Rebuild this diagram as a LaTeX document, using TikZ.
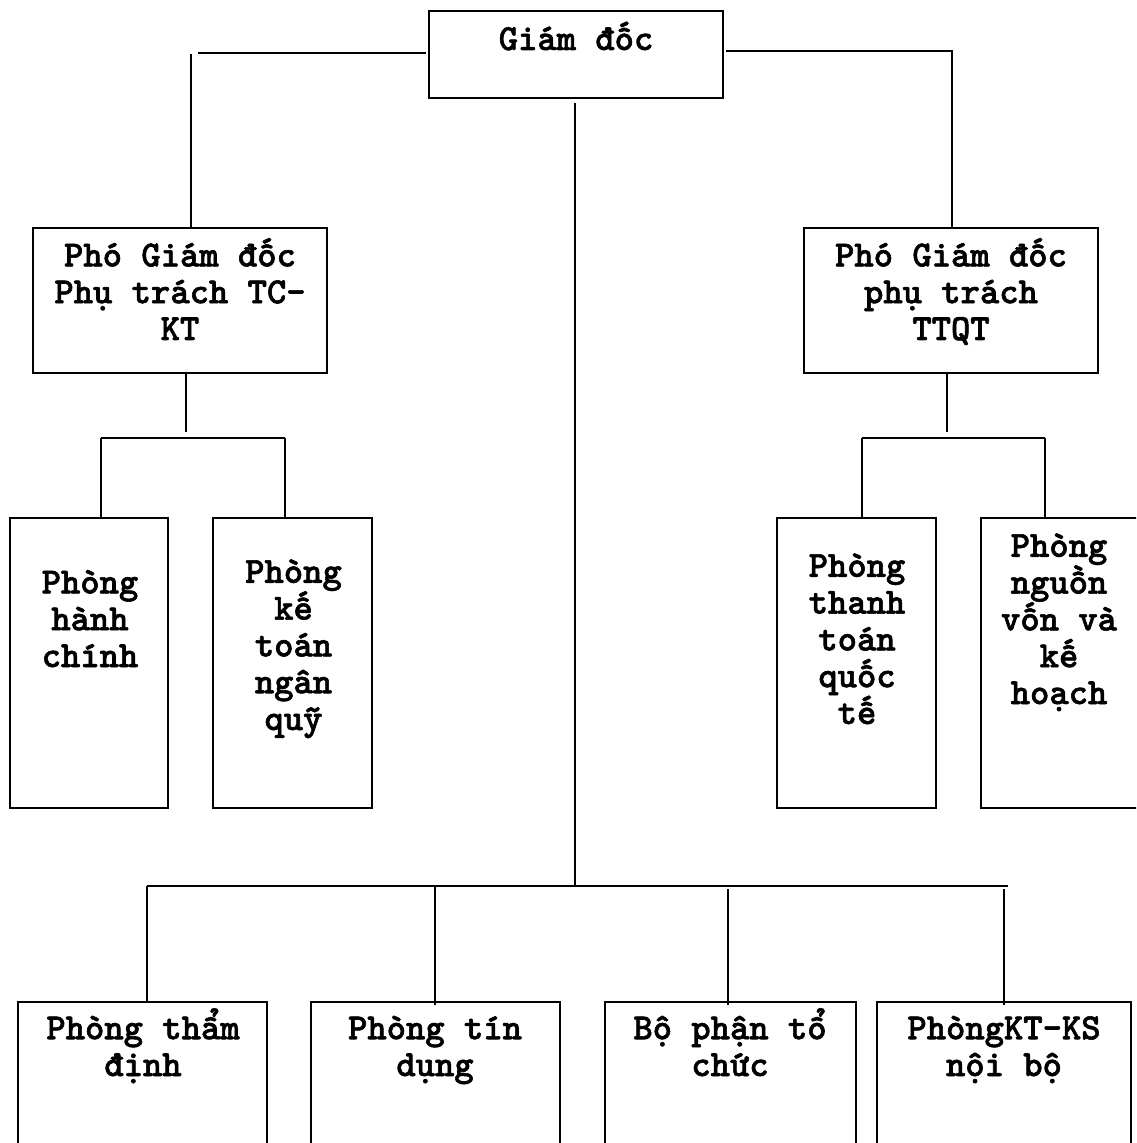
\documentclass[tikz,border=0pt]{standalone}
\usepackage{fontspec}
\newfontfamily\courb{lmmonolt10-bold.otf}[FakeBold=1.6]
\begin{document}
\begin{tikzpicture}[x=0.5pt,y=-0.5pt,
  box/.style={draw,line width=1pt,inner sep=0pt,rectangle},
  lbl/.style={font=\courb\fontsize{18.4}{18.4}\selectfont,align=center,anchor=base,inner sep=0pt},
  conn/.style={line width=1pt}]
\useasboundingbox (0,0) rectangle (1136,1143);
\clip (0,0) rectangle (1136,1143);
% boxes
\node[box,minimum width=147pt,minimum height=43.5pt] (gd) at (576,54.5) {};
\node[box,minimum width=147pt,minimum height=72.5pt] (pgl) at (180,300.5) {};
\node[box,minimum width=147pt,minimum height=72.5pt] (pgr) at (951,300.5) {};
\node[box,minimum width=79pt,minimum height=145pt] (hc) at (89,663) {};
\node[box,minimum width=79.5pt,minimum height=145pt] (kt) at (292.5,663) {};
\node[box,minimum width=79.5pt,minimum height=145pt] (tt) at (856.5,663) {};
\node[box,minimum width=79pt,minimum height=145pt] (nv) at (1060,663) {};
\node[box,minimum width=124.5pt,minimum height=90pt] (td) at (142.5,1092) {};
\node[box,minimum width=124.5pt,minimum height=90pt] (tdg) at (435.5,1092) {};
\node[box,minimum width=125.5pt,minimum height=90pt] (tc) at (730.5,1092) {};
\node[box,minimum width=127pt,minimum height=90pt] (ks) at (1004,1092) {};
% labels (anchor base = baseline of last line)
\node[lbl] (tgd) at (576,50) {Giám đốc};
\node[lbl] (tpgl) at (180,340) {Phó Giám đốc\\Phụ trách TC-\\KT};
\node[lbl] (tpgr) at (951,340) {Phó Giám đốc\\phụ trách\\TTQT};
\node[lbl] (thc) at (90,667) {Phòng\\hành\\chính};
\node[lbl] (tkt) at (293.5,730) {Phòng\\kế\\toán\\ngân\\quỹ};
\node[lbl] (ttt) at (857,724) {Phòng\\thanh\\toán\\quốc\\tế};
\node[lbl] (tnv) at (1059,704) {Phòng\\nguồn\\vốn và\\kế\\hoạch};
\node[lbl] (ttd) at (143,1076) {Phòng thẩm\\định};
\node[lbl] (ttdg) at (435,1076) {Phòng tín\\dụng};
\node[lbl] (ttc) at (730,1076) {Bộ phận tổ\\chức};
\node[lbl] (tks) at (1004,1076) {PhòngKT-KS\\nội bộ};
% junction coordinates
\coordinate (lA) at (426,53);
\coordinate (lB) at (198,53);
\coordinate (lC) at (191,54);
\coordinate (rA) at (726,51);
\coordinate (rB) at (952,51);
\coordinate (cA) at (575,103);
\coordinate (cB) at (575,886);
\coordinate (pl1) at (186,432);
\coordinate (plL) at (101,438);
\coordinate (plR) at (285,438);
\coordinate (pr1) at (947,432);
\coordinate (prL) at (862,438);
\coordinate (prR) at (1045,438);
\coordinate (bL) at (147,886);
\coordinate (bR) at (1008,886);
% connectors
\draw[conn] (lA) -- (lB);
\draw[conn] (lC) -- (lC |- pgl.north);
\draw[conn] (rA) -- (rB) -- (rB |- pgr.north);
\draw[conn] (cA) -- (cB);
\draw[conn] (pl1 |- pgl.south) -- (pl1);
\draw[conn] (plL) -- (plR);
\draw[conn] (plL) -- (plL |- hc.north);
\draw[conn] (plR) -- (plR |- kt.north);
\draw[conn] (pr1 |- pgr.south) -- (pr1);
\draw[conn] (prL) -- (prR);
\draw[conn] (prL) -- (prL |- tt.north);
\draw[conn] (prR) -- (prR |- nv.north);
\draw[conn] (bL) -- (bR);
\draw[conn] (bL) -- (bL |- td.north);
\draw[conn] (435,886) -- (435,1005);
\draw[conn] (728,889) -- (728,1005);
\draw[conn] (1004,889) -- (1004,1005);
\end{tikzpicture}
\end{document}
